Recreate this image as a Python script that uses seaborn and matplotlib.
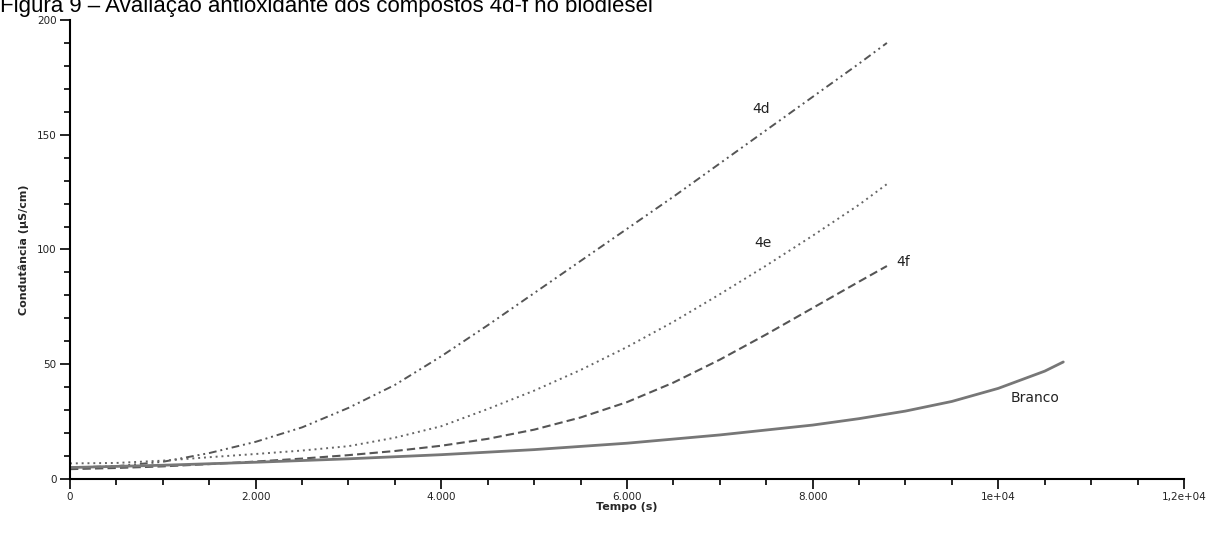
import pandas as pd
import matplotlib
matplotlib.use("Agg")
import matplotlib.pyplot as plt
from matplotlib.ticker import MultipleLocator
import seaborn as sns

# dados (tempo em s, condutância em µS/cm)
tempo_4d = [0, 500, 1000, 1500, 2000, 2500, 3000, 3500, 4000, 4500, 5000, 5500, 6000, 6500, 7000, 7500, 8000, 8500, 8800]
cond_4d = [5, 5.6, 7.5, 11.3, 16.2, 22.5, 31, 41, 53.5, 67, 81, 95, 109, 123, 137.5, 152, 166.5, 181, 190]

tempo_4e = [0, 500, 1000, 1500, 2000, 2500, 3000, 3500, 4000, 4500, 5000, 5500, 6000, 6500, 7000, 7500, 8000, 8500, 8800]
cond_4e = [6.8, 7, 8, 9.5, 10.9, 12.4, 14.3, 18, 23, 30.5, 38.5, 47.5, 57.5, 68.5, 80.5, 93, 106, 119.5, 128.5]

tempo_4f = [0, 500, 1000, 1500, 2000, 2500, 3000, 3500, 4000, 4500, 5000, 5500, 6000, 6500, 7000, 7500, 8000, 8500, 8800]
cond_4f = [4.3, 4.8, 5.5, 6.5, 7.6, 8.9, 10.4, 12.2, 14.5, 17.5, 21.5, 26.8, 33.5, 42, 52, 63, 74.5, 86, 92.8]

tempo_branco = [0, 1000, 2000, 3000, 4000, 5000, 6000, 7000, 8000, 8500, 9000, 9500, 10000, 10500, 10700]
cond_branco = [5, 6, 7.3, 8.8, 10.6, 12.8, 15.6, 19.2, 23.5, 26.3, 29.6, 33.8, 39.5, 47, 51]

xticks = [0, 2000, 4000, 6000, 8000, 10000, 12000]
xtick_labels = ["0", "2.000", "4.000", "6.000", "8.000", "1e+04", "1,2e+04"]
yticks = [0, 50, 100, 150, 200]

sns.set_theme(style="ticks")
plt.rcParams['font.family'] = ['DejaVu Sans']

fig = plt.figure(figsize=(12.09, 5.33), dpi=100)
ax = fig.add_axes([0.0579, 0.1013, 0.9214, 0.8612])

# curvas
sns.lineplot(x=tempo_4d, y=cond_4d, ax=ax, color="#555555", linewidth=1.4)
ax.lines[-1].set_dashes([4, 2, 1, 2, 1, 2])
sns.lineplot(x=tempo_4e, y=cond_4e, ax=ax, color="#666666", linewidth=1.4)
ax.lines[-1].set_dashes([1, 2])
sns.lineplot(x=tempo_4f, y=cond_4f, ax=ax, color="#555555", linewidth=1.5)
ax.lines[-1].set_dashes([4, 2])
sns.lineplot(x=tempo_branco, y=cond_branco, ax=ax, color="#777777", linewidth=2)

# rótulos das curvas
rot = dict(fontsize=10, color="#222222", ha="center", va="center")
ax.text(7440, 161, "4d", **rot)
ax.text(7460, 103, "4e", **rot)
ax.text(8970, 94.5, "4f", **rot)
ax.text(10392, 35.3, "Branco", **rot)

ax.set_xlim(0, 12000)
ax.set_ylim(0, 200)
ax.set_xticks(xticks)
ax.set_xticklabels(xtick_labels)
ax.set_yticks(yticks)
ax.xaxis.set_minor_locator(MultipleLocator(500))
ax.yaxis.set_minor_locator(MultipleLocator(10))

for s in ["top", "right"]:
    ax.spines[s].set_visible(False)
for s in ["left", "bottom"]:
    ax.spines[s].set_color("black")
    ax.spines[s].set_linewidth(1.5)

ax.tick_params(which="major", length=7, width=1.2, color="black", labelsize=7.5, pad=2.5, labelcolor="#222222")
ax.tick_params(which="minor", length=4.5, width=1.2, color="black")

ax.set_xlabel("Tempo (s)", fontsize=8, fontweight="bold", labelpad=0)
ax.set_ylabel("Condutância (µS/cm)", fontsize=8, fontweight="bold", labelpad=6)

# título cortado no topo, como na figura original
fig.text(0.0, 1 - 12 / 533, "Figura 9 – Avaliação antioxidante dos compostos 4d-f no biodiesel",
         fontsize=16, family="Liberation Sans", va="baseline", ha="left", color="black")

fig.savefig("out.png", dpi=100, facecolor="white")
